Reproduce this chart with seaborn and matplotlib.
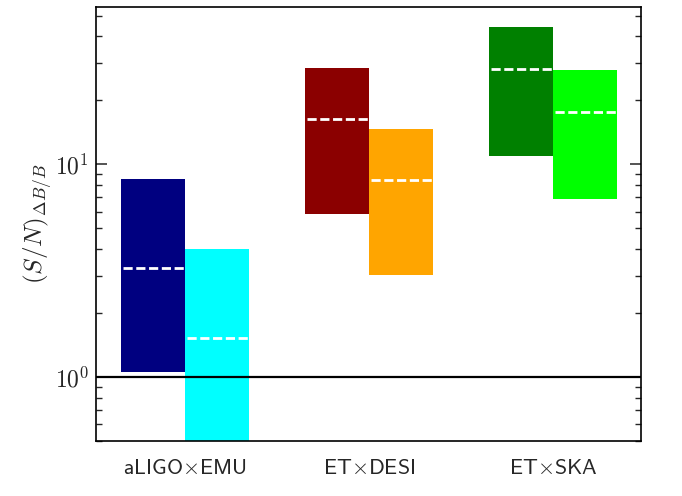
import numpy as np
import matplotlib
matplotlib.use("Agg")
import matplotlib.pyplot as plt
from matplotlib.ticker import FuncFormatter
import seaborn as sns

# ---- data ----
categories = [r"$\mathsf{aLIGO}{\times}\mathsf{EMU}$",
              r"$\mathsf{ET}{\times}\mathsf{DESI}$",
              r"$\mathsf{ET}{\times}\mathsf{SKA}$"]
# first bar in each group (dark colour)
low_a = [1.06, 5.87, 10.9]
high_a = [8.5, 28.3, 44.3]
mid_a = [3.26, 16.3, 28.0]
# second bar in each group (light colour)
low_b = [0.3, 3.02, 6.88]
high_b = [4.0, 14.6, 27.9]
mid_b = [1.53, 8.4, 17.6]
colors_a = ["#000080", "#8B0000", "#008000"]
colors_b = ["#00FFFF", "#FFA500", "#00FF00"]

sns.set_style("ticks")
plt.rcParams["mathtext.fontset"] = "cm"
plt.rcParams["font.family"] = ["DejaVu Sans"]

fig = plt.figure(figsize=(6.82, 4.96), dpi=100)
ax = fig.add_axes([0.1408, 0.111, 0.9399 - 0.1408, 0.986 - 0.111])

x = np.arange(len(categories))
w = 0.35
for i in range(len(categories)):
    ax.bar(x[i] - w / 2, high_a[i] - low_a[i], width=w, bottom=low_a[i],
           color=colors_a[i], linewidth=0)
    ax.bar(x[i] + w / 2, high_b[i] - low_b[i], width=w, bottom=low_b[i],
           color=colors_b[i], linewidth=0)
    ax.hlines(mid_a[i], x[i] - w + 0.01, x[i] - 0.005, colors="white",
              linestyles=(0, (3.3, 1.3)), linewidth=2)
    ax.hlines(mid_b[i], x[i] + 0.01, x[i] + w - 0.005, colors="white",
              linestyles=(0, (3.3, 1.3)), linewidth=2)

ax.axhline(1.0, color="black", linewidth=1.6)
ax.set_yscale("log")
ax.set_ylim(0.5, 55)
ax.set_xlim(-0.484, 2.478)
ax.yaxis.set_major_formatter(
    FuncFormatter(lambda v, p: r"$10^{%d}$" % int(round(np.log10(v)))))
ax.set_xticks(x)
ax.set_xticklabels(categories, fontsize=15.8)
ax.tick_params(axis="x", length=0, pad=12)
ax.tick_params(axis="y", which="both", direction="in", left=True, right=True,
               labelsize=17, pad=5)
ax.tick_params(axis="y", which="major", length=8, width=1.1)
ax.tick_params(axis="y", which="minor", length=4.5, width=1.0)
ax.set_ylabel(r"$(S/N)_{\Delta B/B}$", fontsize=18)
ax.yaxis.set_label_coords(-0.076, 0.5)
for s in ax.spines.values():
    s.set_linewidth(1.2)
    s.set_color("black")

fig.savefig("out.png", dpi=100)
